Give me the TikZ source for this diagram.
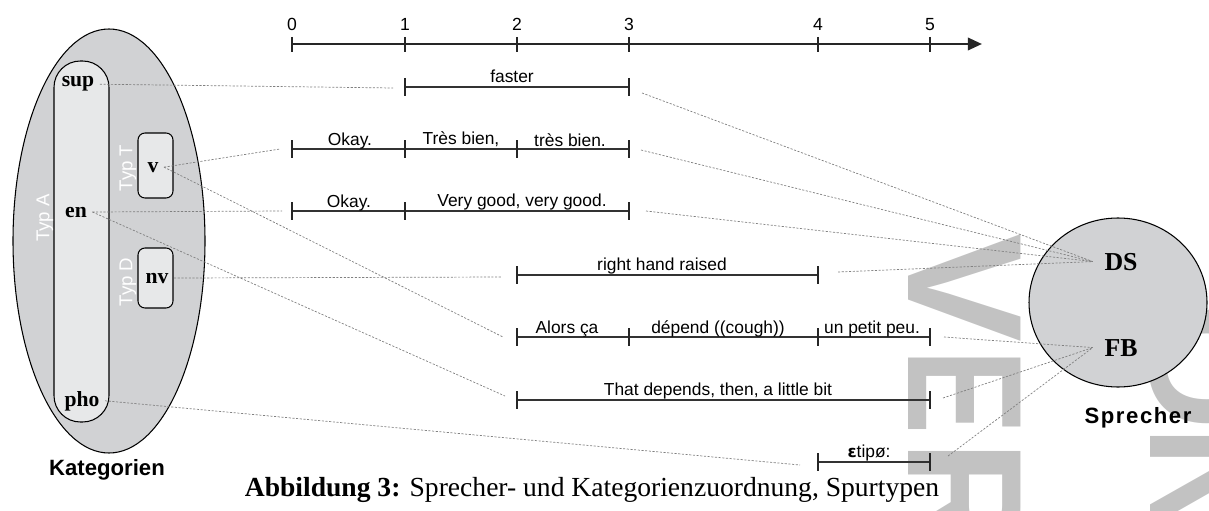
\documentclass[tikz,border=0pt]{standalone}
\usepackage{fontspec}
\setmainfont{Liberation Serif}
\setsansfont{Liberation Sans}
\newfontfamily\ipafont{DejaVu Sans}
\usetikzlibrary{arrows.meta,positioning}
\definecolor{catgray}{RGB}{209,210,212}
\definecolor{boxgray}{RGB}{231,232,233}
\definecolor{wmgray}{RGB}{194,194,194}

\tikzset{
  lbl/.style={font=\sffamily\fontsize{9.9}{11}\selectfont, inner sep=0pt, anchor=base},
  num/.style={font=\sffamily\fontsize{10}{11}\selectfont, inner sep=0pt, anchor=base},
  cat/.style={font=\rmfamily\bfseries\fontsize{12.3}{14}\selectfont, inner sep=3pt, anchor=base},
  spk/.style={font=\rmfamily\bfseries\fontsize{14.7}{16}\selectfont, inner sep=6.5pt, anchor=base},
  typlbl/.style={font=\sffamily\fontsize{10.6}{12}\selectfont, text=white, rotate=90, inner sep=0pt},
  title/.style={font=\sffamily\bfseries\fontsize{12.6}{14}\selectfont, inner sep=0pt, anchor=base},
  wmark/.style={font=\sffamily\bfseries\fontsize{93}{93}\selectfont, text=wmgray, inner sep=0pt,
    anchor=base west, rotate=-90},
  link/.style={draw=gray, line width=0.4pt, dash pattern=on 1.2pt off 0.9pt},
  seg/.style={draw=black!80, line width=0.8pt},
  tk/.style={draw=black!85, line width=1.1pt},
  axisline/.style={draw=black!85, line width=1.4pt}
}

\begin{document}
\begin{tikzpicture}[x=0.02cm, y=-0.02cm]
\useasboundingbox (0,0) rectangle (1209,510);

% watermark
\node[wmark] (wmV) at (908,233) {V};
\node[wmark] (wmE) at (908,349) {\scalebox{0.78}[1]{E}};
\node[wmark] (wmR) at (908,440) {R};
\node[wmark] (wmO) at (1150,303) {O};
\node[wmark] (wmN) at (1150,425) {N};

% Kategorien
\draw[fill=catgray, line width=0.6pt] (109,241) ellipse [x radius=96, y radius=212];
\draw[fill=boxgray, line width=0.6pt, rounded corners=15pt] (54,61) rectangle (109,422);
\draw[fill=boxgray, line width=0.6pt, rounded corners=4pt] (138,133) rectangle (173,198);
\draw[fill=boxgray, line width=0.6pt, rounded corners=4pt] (138,248) rectangle (173,308);
\node[typlbl] (typA) at (45,218) {Typ A};
\node[typlbl] (typT) at (128,168) {Typ T};
\node[typlbl] (typD) at (128,282) {Typ D};

\node[cat] (sup) at (78,87) {sup};
\node[cat] (v) at (153,172) {v};
\node[cat] (en) at (76,217) {en};
\node[cat] (nv) at (157,283) {nv};
\node[cat] (pho) at (82,406) {pho};
\node[title] (kat) at (107,475) {Kategorien};

% Sprecher
\draw[fill=catgray, line width=0.6pt] (1118,302.5) ellipse [x radius=89, y radius=84.5];
\node[spk] (DS) at (1121,270) {DS};
\node[spk] (FB) at (1121,356) {FB};
\node[title] (spr) at (1138,423) {\addfontfeature{LetterSpace=7}Sprecher};

% time axis
\draw[axisline, -{Triangle[length=8pt,width=7pt]}] (292,44) -- (982,44);
\foreach \x/\n in {292/0,405/1,517/2,629/3,818/4,930/5} {
  \draw[axisline] (\x,37) -- (\x,52);
  \node[num] (n\n) at (\x,31) {\n};
}

% tier: faster
\draw[seg] (405,87) -- (629,87);
\foreach \x in {405,629} \draw[tk] (\x,78) -- (\x,96);
\node[lbl] (faster) at (512,83) {faster};

% tier: v (fr)
\draw[seg] (292,149) -- (629,149);
\foreach \x in {292,405,517,629} \draw[tk] (\x,140) -- (\x,158);
\node[lbl] (okfr) at (350,145) {Okay.};
\node[lbl] (tb1) at (461,144) {Très bien,};
\node[lbl] (tb2) at (570,146) {très bien.};

% tier: en
\draw[seg] (292,211) -- (629,211);
\foreach \x in {292,405,629} \draw[tk] (\x,202) -- (\x,220);
\node[lbl] (oken) at (349,207) {Okay.};
\node[lbl] (vg) at (522,206) {Very good, very good.};

% tier: nv
\draw[seg] (517,275) -- (818,275);
\foreach \x in {517,818} \draw[tk] (\x,266) -- (\x,284);
\node[lbl] (rhr) at (662,270) {right hand raised};

% tier: v (fr), FB
\draw[seg] (517,337) -- (930,337);
\foreach \x in {517,629,818,930} \draw[tk] (\x,328) -- (\x,346);
\node[lbl] (alors) at (567,333) {Alors ça};
\node[lbl] (dep) at (718,333) {dépend ((cough))};
\node[lbl] (upp) at (872,333) {un petit peu.};

% tier: en, FB
\draw[seg] (517,400) -- (930,400);
\foreach \x in {517,930} \draw[tk] (\x,391) -- (\x,409);
\node[lbl] (tdep) at (718,395) {That depends, then, a little bit};

% tier: pho
\draw[seg] (818,462) -- (930,462);
\foreach \x in {818,930} \draw[tk] (\x,453) -- (\x,471);
\node[lbl] (ipa) at (869,457) {{\ipafont\bfseries\fontsize{9.4}{11}\selectfont ɛ}tipø:};

% connector ends at the tiers
\coordinate (t1in) at (393,88);
\coordinate (t2in) at (280,149);
\coordinate (t3in) at (282,211);
\coordinate (t4in) at (502,277);
\coordinate (t5in) at (503,337);
\coordinate (t6in) at (505,396);
\coordinate (t7in) at (800,465);
\coordinate (t1out) at (642,93);
\coordinate (t2out) at (641,150);
\coordinate (t3out) at (646,211);
\coordinate (t4out) at (838,272);
\coordinate (t5out) at (944,337);
\coordinate (t6out) at (943,398);
\coordinate (t7out) at (948,456);

% categories -> tiers
\draw[link] (sup.east) -- (t1in);
\draw[link] (v.east) -- (t2in);
\draw[link] (v.east) -- (t5in);
\draw[link] (en.east) -- (t3in);
\draw[link] (en.east) -- (t6in);
\draw[link] (nv.east) -- (t4in);
\draw[link] (pho.east) -- (t7in);

% tiers -> speakers
\draw[link] (t1out) -- (DS.west);
\draw[link] (t2out) -- (DS.west);
\draw[link] (t3out) -- (DS.west);
\draw[link] (t4out) -- (DS.west);
\draw[link] (t5out) -- (FB.west);
\draw[link] (t6out) -- (FB.west);
\draw[link] (t7out) -- (FB.west);

% caption
\node[font=\rmfamily\fontsize{15.7}{18}\selectfont, inner sep=0pt, anchor=base] (cap) at (592,496)
  {\textbf{Abbildung 3:} Sprecher- und Kategorienzuordnung, Spurtypen};
\end{tikzpicture}
\end{document}
